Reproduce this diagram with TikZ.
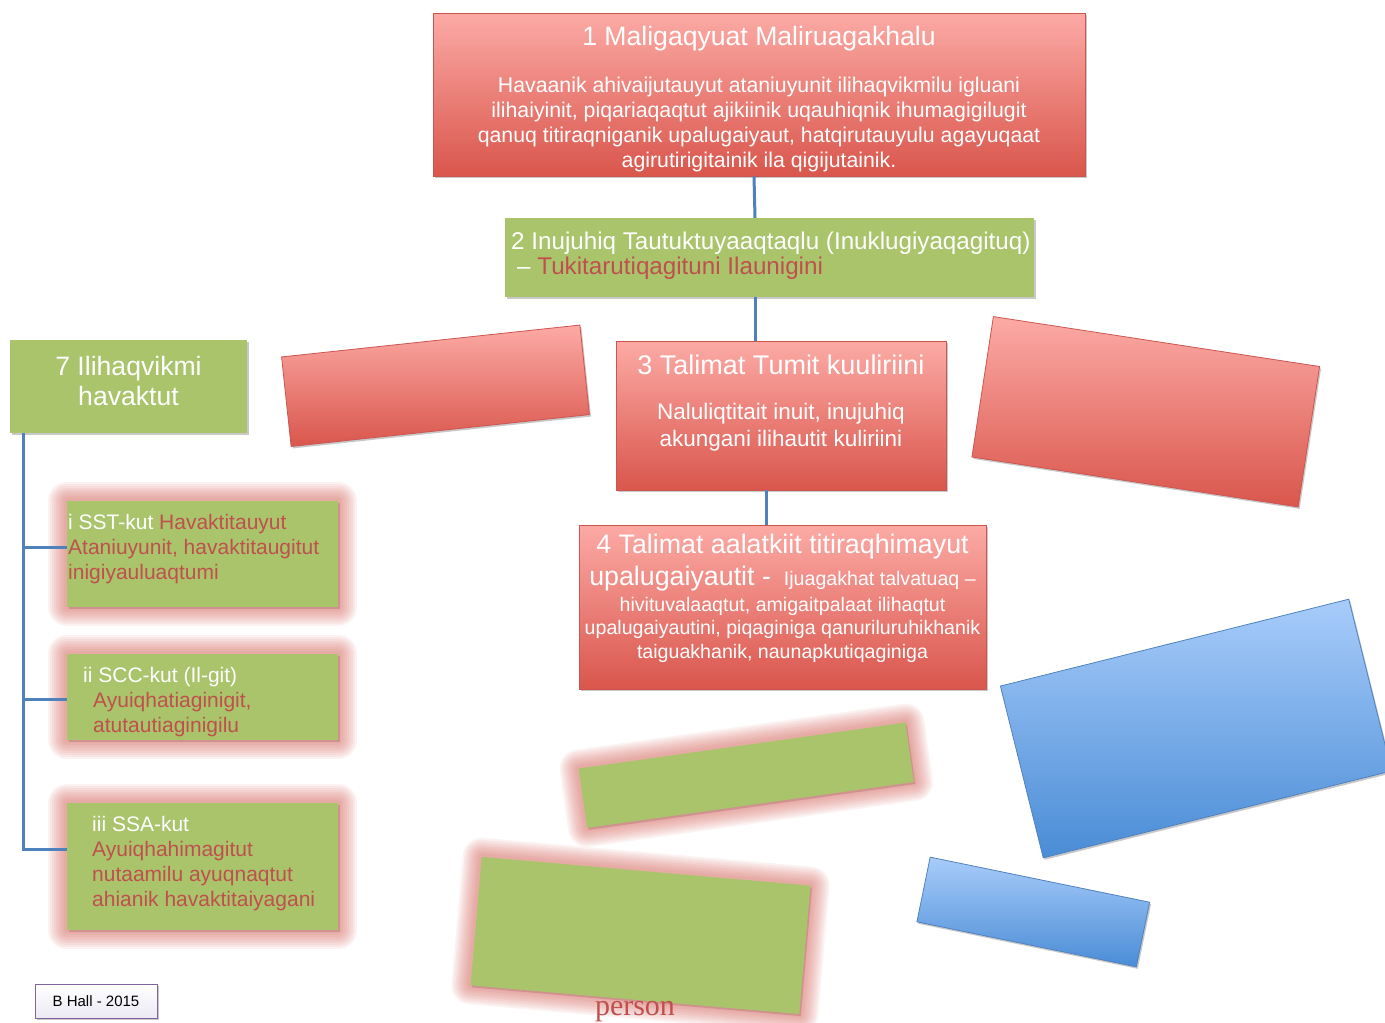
\documentclass[tikz,border=0pt]{standalone}
\usepackage{fontspec}
\setmainfont{Liberation Sans}
\newfontfamily\serifp{Liberation Serif}
\usetikzlibrary{shadows,calc}
\definecolor{redtop}{RGB}{252,170,165}
\definecolor{redbot}{RGB}{217,86,76}
\definecolor{redline}{RGB}{205,85,80}
\definecolor{grn}{RGB}{169,196,107}
\definecolor{txtred}{RGB}{192,80,77}
\definecolor{connc}{RGB}{79,129,189}
\definecolor{bluetop}{RGB}{168,204,250}
\definecolor{bluebot}{RGB}{74,140,214}
\definecolor{blueline}{RGB}{80,130,190}
\definecolor{glowc}{RGB}{218,108,102}
\definecolor{lav}{RGB}{128,100,162}
\definecolor{lavfill}{RGB}{236,233,244}
\tikzset{
  shd/.style={drop shadow={shadow xshift=1.5pt,shadow yshift=-2pt,opacity=0.3,fill=black!70}},
  redbox/.style={rectangle, draw=redline, line width=0.8pt, top color=redtop, bottom color=redbot, shd, inner sep=0pt},
  grnbox/.style={rectangle, fill=grn, shd, inner sep=0pt},
  bluebox/.style={rectangle, draw=blueline, line width=0.8pt, top color=bluetop, bottom color=bluebot, shd, inner sep=0pt},
  gl/.style={preaction={draw=glowc, line width=#1, opacity=0.085, line join=round}},
  glow/.style={gl=38pt, gl=34pt, gl=30pt, gl=26pt, gl=22pt, gl=18pt, gl=14pt, gl=10pt, gl=6pt},
  wt/.style={text=white, inner sep=0pt},
  rt/.style={text=txtred, inner sep=0pt},
  connline/.style={draw=connc, line width=3pt},
}
\begin{document}
\begin{tikzpicture}[x=1pt,y=-1pt]
\useasboundingbox (0,0) rectangle (1385,1023);
\fill[white] (0,0) rectangle (1385,1023);

% rotated decorative shapes
\node[redbox, minimum width=300pt, minimum height=90pt, rotate=6.1] (rA) at (435.5,385.75) {};
\node[redbox, minimum width=330pt, minimum height=142pt, rotate=-8.7] (rB) at (1145.75,411.75) {};
\node[grnbox, glow, minimum width=330pt, minimum height=60pt, rotate=8] (gC) at (746.25,775.25) {};
\node[grnbox, glow, minimum width=330pt, minimum height=129pt, rotate=-5] (gD) at (640.5,935.5) {};
\node[text=txtred, inner sep=0pt, anchor=base, font=\serifp\fontsize{30}{30}\selectfont] (pers) at (635,1015) {person};
\node[bluebox, minimum width=359pt, minimum height=177pt, rotate=14] (bE) at (1196,728.5) {};
\node[bluebox, minimum width=224pt, minimum height=66pt, rotate=-11.6] (bF) at (1033.25,912) {};

% main boxes
\node[redbox, minimum width=652pt, minimum height=163pt] (b1) at (759,94.5) {};
\node[grnbox, minimum width=529pt, minimum height=79pt] (b2) at (769.5,257.5) {};
\node[redbox, minimum width=330pt, minimum height=149pt] (b3) at (781,415.5) {};
\node[redbox, minimum width=407pt, minimum height=164pt] (b4) at (782.5,607) {};
\node[grnbox, minimum width=237pt, minimum height=93pt] (b7) at (128.5,386.5) {};
\node[grnbox, glow, minimum width=271pt, minimum height=106pt] (si) at (202.5,554) {};
\node[grnbox, glow, minimum width=271pt, minimum height=86pt] (sii) at (202.5,697) {};
\node[grnbox, glow, minimum width=271pt, minimum height=127pt] (siii) at (202.5,866.5) {};
\node[rectangle, draw=lav, line width=1pt, top color=white, bottom color=lavfill, shd,
      minimum width=122pt, minimum height=34pt, inner sep=0pt, font=\fontsize{15}{17}\selectfont] (bh) at (96,1001) {B Hall - 2015};

% connectors
\coordinate (x1) at (754,0);
\coordinate (x2) at (755,0);
\coordinate (x3) at (766,0);
\coordinate (xl) at (23,0);
\draw[connline] (b1.south -| x1) -- (b2.north -| x2);
\draw[connline] (b2.south -| x2) -- (b3.north -| x2);
\draw[connline] (b3.south -| x3) -- (b4.north -| x3);
\coordinate (lv) at (23,849);
\coordinate (h1) at (23,547);
\coordinate (h2) at (23,699);
\draw[connline] (b7.south -| xl) -- (lv) -- (siii.west |- lv);
\draw[connline] (h1) -- (si.west |- h1);
\draw[connline] (h2) -- (sii.west |- h2);

% texts
\node[wt, font=\fontsize{26.6}{30}\selectfont] (t1a) at (759,39) {1 Maligaqyuat Maliruagakhalu};
\node[wt, align=center, font=\fontsize{21.3}{25}\selectfont] (t1b) at (759,124.5)
  {Havaanik ahivaijutauyut ataniuyunit ilihaqvikmilu igluani\\ilihaiyinit, piqariaqaqtut ajikiinik uqauhiqnik ihumagigilugit\\qanuq titiraqniganik upalugaiyaut, hatqirutauyulu agayuqaat\\agirutirigitainik ila qigijutainik.};
\node[wt, align=left, anchor=west, font=\fontsize{24.2}{25}\selectfont] (t2) at (511,256)
  {2 Inujuhiq Tautuktuyaaqtaqlu (Inuklugiyaqagituq)\\\hspace*{6pt}– \textcolor{txtred}{Tukitarutiqagituni Ilaunigini}};
\node[wt, font=\fontsize{27}{30}\selectfont] (t3a) at (781,365) {3 Talimat Tumit kuuliriini};
\node[wt, align=center, font=\fontsize{22.5}{27}\selectfont] (t3b) at (781,427.5)
  {Naluliqtitait inuit, inujuhiq\\akungani ilihautit kuliriini};
\node[wt, font=\fontsize{26.8}{30}\selectfont] (t4a) at (782.5,547) {4 Talimat aalatkiit titiraqhimayut};
\node[wt, font=\fontsize{26.8}{30}\selectfont] (t4b) at (782.5,579) {upalugaiyautit - \fontsize{19.6}{22}\selectfont\ Ijuagakhat talvatuaq –};
\node[wt, align=center, font=\fontsize{19.6}{23.5}\selectfont] (t4c) at (782.5,629.5)
  {hivituvalaaqtut, amigaitpalaat ilihaqtut\\upalugaiyautini, piqaginiga qanuriluruhikhanik\\taiguakhanik, naunapkutiqaginiga};
\node[wt, align=center, font=\fontsize{26.6}{30}\selectfont] (t7) at (128.5,381) {7 Ilihaqvikmi\\havaktut};
\node[rt, align=left, anchor=west, font=\fontsize{21}{25}\selectfont] (ti) at (68,549)
  {\textcolor{white}{i SST-kut} Havaktitauyut\\Ataniuyunit, havaktitaugitut\\inigiyauluaqtumi};
\node[wt, anchor=west, font=\fontsize{21}{25}\selectfont] (tii1) at (83,677) {ii SCC-kut (Il-git)};
\node[rt, align=left, anchor=west, font=\fontsize{21}{25}\selectfont] (tii2) at (93,714.5)
  {Ayuiqhatiaginigit,\\atutautiaginigilu};
\node[rt, align=left, anchor=west, font=\fontsize{21}{25}\selectfont] (tiii) at (92,863.5)
  {\textcolor{white}{iii SSA-kut}\\Ayuiqhahimagitut\\nutaamilu ayuqnaqtut\\ahianik havaktitaiyagani};
\end{tikzpicture}
\end{document}
